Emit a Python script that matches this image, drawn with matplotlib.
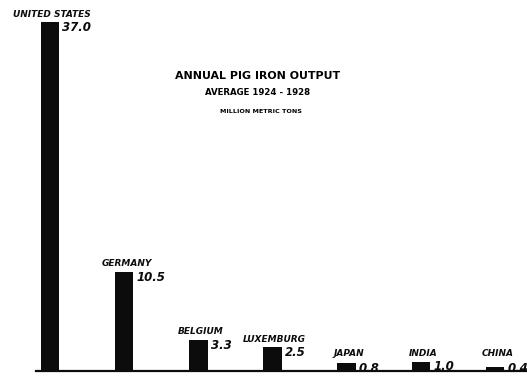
import matplotlib.pyplot as plt

countries = ["United States", "Germany", "Belgium", "Luxemburg", "Japan", "India", "China"]
output = [37.0, 10.5, 3.3, 2.5, 0.8, 1.0, 0.4]
value_labels = ["37.0", "10.5", "3.3", "2.5", "0.8", "1.0", "0.4"]

title_lines = ["ANNUAL PIG IRON OUTPUT", "AVERAGE 1924 - 1928", "MILLION METRIC TONS"]

fig = plt.figure(figsize=(5.27, 3.77), dpi=100)
ax = fig.add_axes([0, 0, 1, 1])
ax.set_xlim(-0.674, 6.43)
ax.set_ylim(-0.64, 39.34)
ax.axis("off")

pos = list(range(len(countries)))
w = 0.25
ax.bar(pos, output, width=w, color="#0c0c0c", zorder=2)

# baseline under the bars
ax.axhline(0, xmin=36 / 527, xmax=1, color="#0c0c0c", lw=1.6, zorder=3)

for x, v, name, lab in zip(pos, output, countries, value_labels):
    ax.text(x + 0.03, max(v + 0.85, 1.9), name.upper(), ha="center", va="center",
            fontsize=6.5, fontweight="heavy", fontstyle="italic", color="#0c0c0c")
    ax.text(x + w / 2 + 0.04, max(v - 0.55, 0.3), lab, ha="left", va="center",
            fontsize=8.5, fontweight="heavy", fontstyle="italic", color="#0c0c0c")

# title block
tx = 2.8
ax.text(tx, 31.3, title_lines[0], ha="center", va="center", fontsize=7.9, fontweight="heavy")
ax.text(tx, 29.5, title_lines[1], ha="center", va="center", fontsize=6.2, fontweight="heavy")
ax.text(tx + 0.05, 27.5, title_lines[2], ha="center", va="center", fontsize=4.6, fontweight="heavy")

fig.savefig("out.png", dpi=100)
plt.close()
